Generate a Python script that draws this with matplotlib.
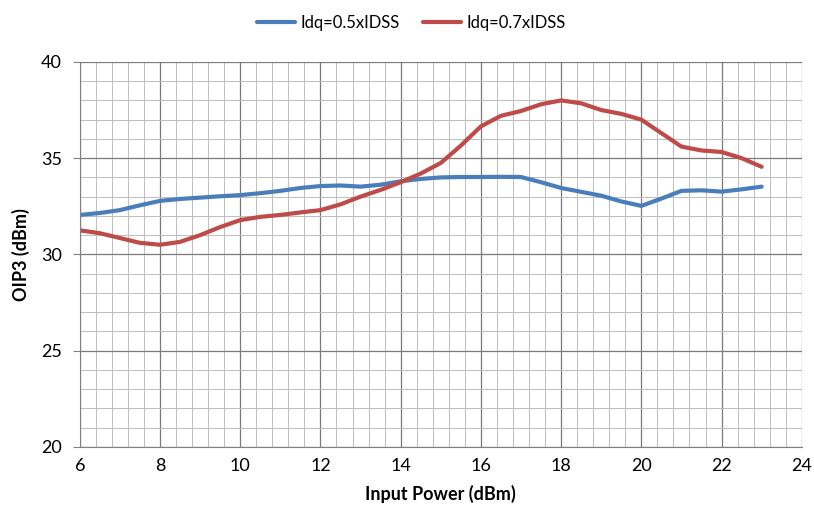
import numpy as np
import matplotlib.pyplot as plt
from matplotlib.ticker import MultipleLocator

# values every 0.5 dBm
pin = [6, 6.5, 7, 7.5, 8, 8.5, 9, 9.5, 10, 10.5, 11, 11.5, 12, 12.5, 13, 13.5,
       14, 14.5, 15, 15.5, 16, 16.5, 17, 17.5, 18, 18.5, 19, 19.5, 20, 20.5,
       21, 21.5, 22, 22.5, 23]
oip3_05 = [32.05, 32.15, 32.3, 32.55, 32.78, 32.88, 32.95, 33.02, 33.08, 33.18,
           33.3, 33.45, 33.55, 33.58, 33.52, 33.62, 33.8, 33.92, 34.0, 34.02,
           34.02, 34.03, 34.02, 33.75, 33.45, 33.25, 33.05, 32.75, 32.52, 32.9,
           33.3, 33.33, 33.26, 33.38, 33.52]
oip3_07 = [31.25, 31.1, 30.85, 30.6, 30.5, 30.65, 31.0, 31.42, 31.78, 31.95,
           32.05, 32.18, 32.3, 32.6, 33.0, 33.35, 33.75, 34.2, 34.75, 35.65,
           36.65, 37.2, 37.45, 37.8, 38.0, 37.85, 37.5, 37.3, 37.0, 36.3,
           35.6, 35.4, 35.32, 35.0, 34.55]

plt.rcParams['font.family'] = ['Lato', 'DejaVu Sans']

fig = plt.figure(figsize=(8.14, 5.16), dpi=100)
ax = fig.add_axes([0.098, 0.134, 0.887, 0.746])

ax.plot(pin, oip3_05, color='#4A7EBB', lw=3, label='Idq=0.5xIDSS',
        solid_capstyle='round', solid_joinstyle='round')
ax.plot(pin, oip3_07, color='#BE4B48', lw=3, label='Idq=0.7xIDSS',
        solid_capstyle='round', solid_joinstyle='round')

ax.set_xlim(6, 24)
ax.set_ylim(20, 40)
ax.xaxis.set_major_locator(MultipleLocator(2))
ax.xaxis.set_minor_locator(MultipleLocator(0.4))
ax.yaxis.set_major_locator(MultipleLocator(5))
ax.yaxis.set_minor_locator(MultipleLocator(1))
ax.grid(which='major', color='#7a7a7a', lw=0.9)
ax.grid(which='minor', color='#bdbdbd', lw=0.7)
ax.set_axisbelow(True)
ax.tick_params(which='both', length=0, labelsize=13, pad=8)
ax.tick_params(axis='y', which='major', length=5, color='#808080')
for s in ['top', 'right']:
    ax.spines[s].set_visible(False)
ax.spines['left'].set_color('#808080')
ax.spines['bottom'].set_color('#808080')

ax.set_xlabel('Input Power (dBm)', fontsize=13, fontweight='bold', labelpad=8)
ax.set_ylabel('OIP3 (dBm)', fontsize=13, fontweight='bold', labelpad=8)

fig.legend(loc='upper center', bbox_to_anchor=(0.505, 1.0), ncol=2, frameon=False,
           fontsize=12, handlelength=2.3, handletextpad=0.3, columnspacing=1.4)

fig.savefig('out.png', dpi=100)
